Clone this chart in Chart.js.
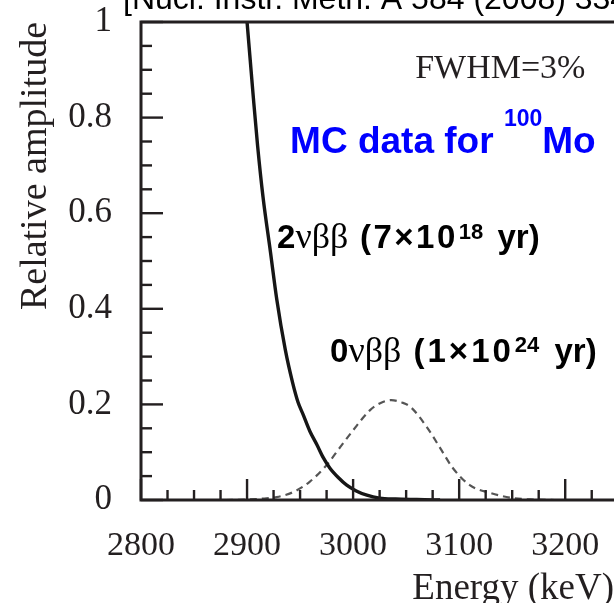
<!DOCTYPE html>
<html>
<head>
<meta charset="utf-8">
<script src="https://cdn.jsdelivr.net/npm/chart.js@4.4.1/dist/chart.umd.min.js"></script>
<style>
  html, body { margin: 0; padding: 0; background: #ffffff; overflow: hidden; }
  #wrap { position: relative; width: 614px; height: 603px; }
</style>
</head>
<body>
<div id="wrap"><canvas id="c" width="614" height="603"></canvas></div>
<script>
// ---- Data ----
// 2νββ spectrum tail (solid line): energy (keV) and relative amplitude
const twoNuEnergy = [2900, 2903, 2906, 2910, 2915, 2922, 2928, 2936, 2943, 2948, 2953, 2959, 2966, 2972, 2978, 2986, 2994, 3003, 3013, 3025, 3040, 3060, 3082];
const twoNuAmp    = [1.00, 0.92, 0.84, 0.74, 0.635, 0.52, 0.42, 0.315, 0.245, 0.205, 0.178, 0.145, 0.115, 0.088, 0.067, 0.047, 0.031, 0.019, 0.010, 0.004, 0.002, 0.001, 0.0];

// 0νββ peak (dashed line): energy (keV) and relative amplitude
const zeroNuEnergy = [2880, 2900, 2915, 2928, 2944, 2959, 2975, 2988, 3000, 3016, 3026, 3036, 3046, 3054, 3070, 3082, 3094, 3110, 3129, 3151, 3170, 3190];
const zeroNuAmp    = [0.0, 0.001, 0.003, 0.006, 0.017, 0.038, 0.073, 0.111, 0.146, 0.188, 0.203, 0.209, 0.204, 0.195, 0.151, 0.109, 0.067, 0.031, 0.015, 0.004, 0.001, 0.0];

// Axis ticks
const xTickValues = [2800, 2900, 3000, 3100, 3200];
const xTickLabels = ['2800', '2900', '3000', '3100', '3200'];
const xMinorStep = 25;
const yTickValues = [0, 0.2, 0.4, 0.6, 0.8, 1];
const yTickLabels = ['0', '0.2', '0.4', '0.6', '0.8', '1'];
const yMinorStep = 0.05;

// Axis range (the right side of the original plot is cropped)
const xMin = 2800, xMax = 3246;
const yMin = 0, yMax = 1;

// Text
const xTitle = 'Energy (keV)';
const yTitle = 'Relative amplitude';
const citation = '[Nucl. Instr. Meth. A 584 (2008) 334]';
const fwhmText = 'FWHM=3%';

// ---- Build chart ----
const toXY = (xs, ys) => xs.map((x, i) => ({ x: x, y: ys[i] }));
const INK = '#231f20';
const SERIF = '"Liberation Serif", "Times New Roman", serif';
const SANS = '"Liberation Sans", Arial, sans-serif';

function drawRuns(ctx, x, y, runs) {
  let cx = x;
  runs.forEach(r => {
    ctx.font = r.font;
    ctx.fillStyle = r.color;
    ctx.letterSpacing = r.ls || '0px';
    ctx.fillText(r.text, cx, y + (r.dy || 0));
    cx += ctx.measureText(r.text).width + (r.gap || 0);
  });
  ctx.letterSpacing = '0px';
}

const framePlugin = {
  id: 'frameAndTicks',
  afterDatasetsDraw(chart) {
    const { ctx, chartArea: ca, scales: { x, y } } = chart;
    ctx.save();
    ctx.strokeStyle = INK;
    ctx.lineCap = 'butt';
    ctx.lineWidth = 2.4;
    for (let v = xMin; v <= xMax + 0.001; v += xMinorStep) {
      const px = x.getPixelForValue(v);
      const major = xTickValues.includes(v);
      const len = major ? 21 : 10;
      ctx.beginPath();
      ctx.moveTo(px, ca.bottom);
      ctx.lineTo(px, ca.bottom - len);
      ctx.stroke();
    }
    for (let k = 0; k <= Math.round((yMax - yMin) / yMinorStep); k++) {
      const v = yMin + k * yMinorStep;
      const py = y.getPixelForValue(v);
      const major = Math.abs(v / 0.2 - Math.round(v / 0.2)) < 1e-6;
      const len = major ? 22 : 11;
      ctx.beginPath();
      ctx.moveTo(ca.left, py);
      ctx.lineTo(ca.left + len, py);
      ctx.stroke();
    }
    ctx.lineWidth = 3;
    ctx.beginPath();
    ctx.moveTo(ca.right + 2, ca.top);
    ctx.lineTo(ca.left, ca.top);
    ctx.lineTo(ca.left, ca.bottom);
    ctx.lineTo(ca.right + 2, ca.bottom);
    ctx.stroke();
    ctx.restore();
  },
  afterDraw(chart) {
    const { ctx, scales: { x, y } } = chart;
    ctx.save();
    ctx.textBaseline = 'alphabetic';
    ctx.textAlign = 'left';
    drawRuns(ctx, 123, 9, [{ text: citation, font: '32px ' + SANS, color: '#000' }]);
    drawRuns(ctx, x.getPixelForValue(3058.5), y.getPixelForValue(0.883),
      [{ text: fwhmText, font: '34px ' + SERIF, color: INK }]);
    drawRuns(ctx, x.getPixelForValue(2940.6), y.getPixelForValue(0.726), [
      { text: 'MC data for ', font: 'bold 37px ' + SANS, color: '#0000ff' },
      { text: '100', font: 'bold 23px ' + SANS, color: '#0000ff', dy: -27 },
      { text: 'Mo', font: 'bold 37px ' + SANS, color: '#0000ff' }
    ]);
    drawRuns(ctx, x.getPixelForValue(2928.3), y.getPixelForValue(0.527), [
      { text: '2', font: 'bold 33px ' + SANS, color: '#000' },
      { text: 'νββ', font: '36px ' + SERIF, color: '#000' },
      { text: ' (7×10', font: 'bold 33px ' + SANS, color: '#000', ls: '2.5px', gap: 1 },
      { text: '18', font: 'bold 22px ' + SANS, color: '#000', dy: -9, gap: 5 },
      { text: ' yr)', font: 'bold 33px ' + SANS, color: '#000' }
    ]);
    drawRuns(ctx, x.getPixelForValue(2978.3), y.getPixelForValue(0.289), [
      { text: '0', font: 'bold 33px ' + SANS, color: '#000' },
      { text: 'νββ', font: '36px ' + SERIF, color: '#000' },
      { text: ' (1×10', font: 'bold 33px ' + SANS, color: '#000', ls: '3px', gap: 1 },
      { text: '24', font: 'bold 22px ' + SANS, color: '#000', dy: -10, gap: 6 },
      { text: ' yr)', font: 'bold 33px ' + SANS, color: '#000' }
    ]);
    ctx.restore();
  }
};

new Chart(document.getElementById('c'), {
  type: 'line',
  data: {
    datasets: [
      {
        label: '2νββ',
        data: toXY(twoNuEnergy, twoNuAmp),
        borderColor: '#161616',
        borderWidth: 3.4,
        pointRadius: 0,
        cubicInterpolationMode: 'monotone',
        fill: false
      },
      {
        label: '0νββ',
        data: toXY(zeroNuEnergy, zeroNuAmp),
        borderColor: '#555555',
        borderWidth: 2.2,
        borderDash: [7, 5],
        pointRadius: 0,
        cubicInterpolationMode: 'monotone',
        fill: false
      }
    ]
  },
  options: {
    responsive: false,
    maintainAspectRatio: false,
    animation: false,
    events: [],
    layout: { padding: { top: 22, left: 0, right: 0, bottom: 0 } },
    plugins: { legend: { display: false }, tooltip: { enabled: false }, title: { display: false } },
    scales: {
      x: {
        type: 'linear',
        min: xMin,
        max: xMax,
        grid: { display: false, drawTicks: false },
        border: { display: false },
        afterBuildTicks: s => { s.ticks = xTickValues.map(v => ({ value: v })); },
        afterFit: s => { s.height = 103; s.paddingLeft = 0; s.paddingRight = 0; s.paddingTop = 0; s.paddingBottom = 0; },
        ticks: {
          padding: 26,
          maxRotation: 0,
          autoSkip: false,
          color: INK,
          font: { family: SERIF, size: 34 },
          callback: (v, i) => xTickLabels[i]
        },
        title: {
          display: true,
          text: xTitle,
          align: 'end',
          color: INK,
          font: { family: SERIF, size: 37 },
          padding: { top: 0, bottom: -8.7 }
        }
      },
      y: {
        type: 'linear',
        min: yMin,
        max: yMax,
        grid: { display: false, drawTicks: false },
        border: { display: false },
        afterBuildTicks: s => { s.ticks = yTickValues.map(v => ({ value: v })); },
        afterFit: s => { s.width = 141; s.paddingLeft = 0; s.paddingRight = 0; s.paddingTop = 0; s.paddingBottom = 0; },
        ticks: {
          padding: 29,
          autoSkip: false,
          color: INK,
          font: { family: SERIF, size: 35 },
          callback: (v, i) => yTickLabels[i]
        },
        title: {
          display: true,
          text: yTitle,
          align: 'end',
          color: INK,
          font: { family: SERIF, size: 38 },
          padding: { top: 13, bottom: 0 }
        }
      }
    }
  },
  plugins: [framePlugin]
});
</script>
</body>
</html>
